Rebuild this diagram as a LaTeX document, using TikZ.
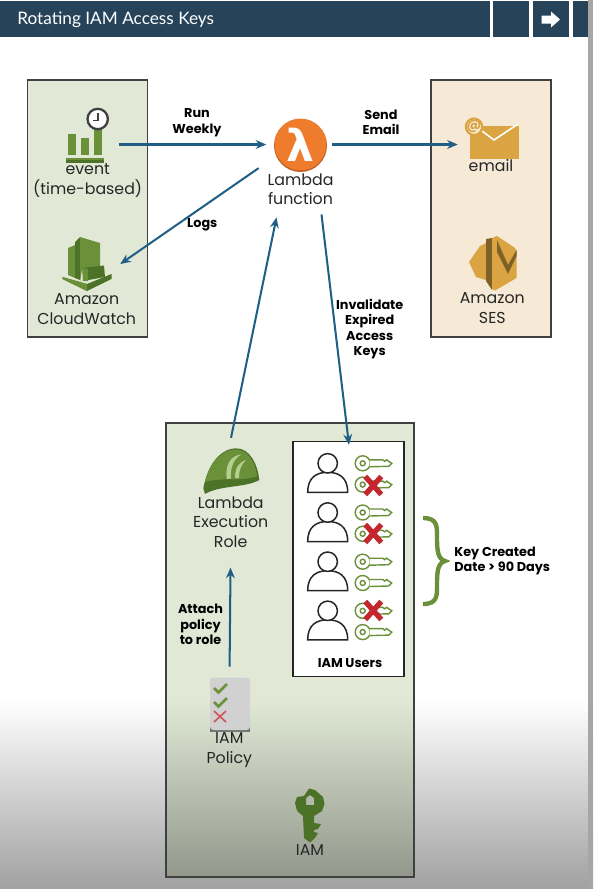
\documentclass[tikz,border=0pt]{standalone}
\usepackage{fontspec}
\setmainfont{Poppins}
\newfontfamily\titlefont{Lato}
\newfontfamily\glyphfont{DejaVu Sans}
\usetikzlibrary{arrows.meta}

\definecolor{barblue}{HTML}{26435A}
\definecolor{flowblue}{HTML}{1F5F85}
\definecolor{panelgreen}{HTML}{E1E9D6}
\definecolor{panelsand}{HTML}{F6EAD6}
\definecolor{leaf}{HTML}{6A9039}
\definecolor{leafdark}{HTML}{4C7228}
\definecolor{leafpale}{HTML}{B5CF8E}
\definecolor{amber}{HTML}{D9A441}
\definecolor{amberdark}{HTML}{7F6128}
\definecolor{crossred}{HTML}{C4262E}
\definecolor{lambdaorange}{HTML}{EF7B2D}

\tikzset{
  panel/.style={draw=black!75,line width=0.7pt},
  flow/.style={draw=flowblue,line width=1.15pt,-{Stealth[length=6pt,width=5pt]}},
  label/.style={align=center,inner sep=0pt,font=\fontsize{9}{11}\selectfont,text=black!85},
  boldlabel/.style={align=center,inner sep=0pt,font=\fontsize{7.3}{8.8}\selectfont\bfseries,text=black},
  iconbox/.style={inner sep=0pt,minimum width=#1*0.567pt,minimum height=22pt},
  pics/keyicon/.style={code={
    \draw[leaf,line width=0.8pt,fill=white] (0,0) circle (7.5);
    \draw[leaf,line width=0.8pt,fill=white] (7,-3.5) -- (20,-3.5) -- (22,-2) -- (24,-3.5) -- (26,-2) -- (29,0) -- (26,3) -- (7,3.5);
    \draw[leaf,line width=0.8pt] (0,0) circle (2.5);
  }},
  pics/usericon/.style={code={
    \draw[black!85,line width=0.85pt,fill=white] (-20,29) -- (20,29) .. controls (20,14) and (11,9) .. (0,9) .. controls (-11,9) and (-20,14) .. (-20,29) -- cycle;
    \draw[black!85,line width=0.85pt,fill=white] (0,0) circle (9.7);
  }},
  pics/redcross/.style={code={
    \draw[crossred,line width=3pt] (-8,-9) -- (8,9) (8,-9) -- (-8,9);
  }}
}

\begin{document}
\begin{tikzpicture}[x=0.02cm,y=-0.02cm]

\useasboundingbox (0,0) rectangle (593,889);

% Page background
\fill[white] (0,0) rectangle (593,700);
\shade[top color=white,bottom color=black!37] (0,700) rectangle (593,889);
\fill[black!35] (588,0) rectangle (593,889);

% Title bar
\fill[barblue] (0,1) rectangle (490,37);
\fill[barblue] (493,1) rectangle (529,37);
\fill[barblue] (533,1) rectangle (569,37);
\fill[barblue] (573,1) rectangle (588,37);
\node[anchor=west,inner sep=0pt,text=white,font=\fontsize{9.8}{12}\selectfont\titlefont] (title) at (17,19.5) {Rotating IAM Access Keys};
\fill[white] (541.5,15.5) -- (551,15.5) -- (551,11.5) -- (560,19.5) -- (551,27.5) -- (551,23.5) -- (541.5,23.5) -- cycle;

% Panels
\draw[panel,fill=panelgreen] (27.5,80) rectangle (147.5,337);
\draw[panel,fill=panelsand] (431,80) rectangle (551,337);
\fill[panelgreen] (166,423) rectangle (414,700);
\shade[top color=panelgreen,bottom color=black!35!panelgreen] (166,700) rectangle (414,877);
\draw[panel] (166,423) rectangle (414,877);

% Event icon
\fill[leafdark] (66,157.5) rectangle (103.5,162.5);
\fill[leaf] (66,157.5) rectangle (103.5,160);
\fill[leaf] (67.5,133.5) rectangle (76,155);
\fill[leaf] (80.5,137.5) rectangle (88.5,155);
\fill[leaf] (94,128) rectangle (102,155);
\draw[black!75,line width=1.3pt,fill=white] (97.7,119) circle (10.2);
\draw[black!75,line width=0.8pt] (98,112.5) -- (98,120.5) -- (92.5,120.5);
\node[iconbox=62] (eventicon) at (88,144.5) {};
\node[label] (eventlabel) at (87.7,180.5) {event\\(time-based)};

% CloudWatch icon
\fill[leaf] (68,248) -- (75,245) -- (75,278) -- (68,275) -- cycle;
\fill[leafdark] (75,242) -- (80,237) -- (80,280) -- (75,278) -- cycle;
\fill[leaf] (80,237) -- (100,243) -- (100,268) -- (82,270) -- (80,282) -- cycle;
\fill[leafdark] (82.5,268) -- (104,265.5) -- (105,277) -- (83,281) -- cycle;
\fill[leaf] (82.5,268) -- (88,269) -- (88,281) -- (83,281) -- cycle;
\fill[leafdark] (62.5,277) -- (87,284) -- (111.5,274) -- (111.5,279) -- (87,291) -- (62.5,279) -- cycle;
\fill[leaf] (62.5,277) -- (87,284) -- (87,291) -- (62.5,279) -- cycle;
\node[iconbox=64] (watchicon) at (88,264) {};
\node[label] (watchlabel) at (86.7,309) {Amazon\\CloudWatch};

% Lambda function
\fill[black!20!lambdaorange] (300.5,145.5) circle (26.5);
\node[circle,fill=lambdaorange,minimum size=29.5pt,inner sep=0pt,text=white,font=\fontsize{25}{25}\selectfont\glyphfont\bfseries] (lambda) at (300.5,144.5) {λ};
\node[label] (lambdalabel) at (300.5,189.5) {Lambda\\function};

% Email icon
\fill[amber] (470,125.5) -- (519,125.5) -- (519,158.5) -- (470,158.5) -- cycle;
\draw[white,line width=0.9pt] (482,131) -- (494,140) -- (518,124);
\draw[amber,line width=1.2pt,fill=panelsand] (474,126.7) circle (8.2);
\node[text=amber,inner sep=0pt,font=\fontsize{8}{8}\selectfont\bfseries] (atsign) at (474,126.2) {@};
\node[iconbox=49] (emailicon) at (494.5,144.5) {};
\node[label] (emaillabel) at (491,166) {email};

% SES icon
\fill[amber] (469,262) -- (480,246) -- (486,243) -- (486,280) -- (476,277) -- cycle;
\fill[amberdark] (486,239) -- (492,238) -- (492,290) -- (486,281) -- cycle;
\fill[amber] (492,238) -- (497,236) -- (515,248) -- (516.5,251) -- (516.5,278) -- (495,290.5) -- (492,289) -- cycle;
\fill[amberdark] (497,240) -- (508,265) -- (516.5,250) -- (516.5,256) -- (508,274) -- (497,252) -- cycle;
\node[label] (seslabel) at (492.3,308) {Amazon\\SES};

% Lambda role helmet
\fill[leafdark] (203.3,488.3) .. controls (207,468) and (218,449) .. (236,448.3) .. controls (250,448) and (258,465) .. (259.3,480) .. controls (245,488) and (220,485) .. (205,494) -- cycle;
\fill[leaf] (205,482) .. controls (209,466) and (219,450) .. (236,449.5) .. controls (249,449.5) and (256,465) .. (257,476) .. controls (243,482) and (220,477) .. (205,482) -- cycle;
\fill[leafpale] (226.7,479) .. controls (225,465) and (230,456) .. (241,454.5) .. controls (234,459) and (230,467) .. (231,478.5) -- cycle;
\fill[leafpale] (235,478) .. controls (235,468) and (238,463) .. (246,460) .. controls (241,465) and (239,470) .. (239,478) -- cycle;
\node[iconbox=56,minimum height=47.6pt] (roleicon) at (231,480) {};
\node[label] (rolelabel) at (230.7,522) {Lambda\\Execution\\Role};

% IAM policy
\fill[black!55] (210,720) rectangle (250,732);
\fill[black!18,rounded corners=2pt] (210,677.5) rectangle (250,730);
\draw[leaf,line width=1.6pt] (214,688) -- (218.5,692.5) -- (227,684);
\draw[leaf,line width=1.6pt] (214,702) -- (218.5,706.5) -- (227,698);
\draw[crossred!80,line width=0.9pt] (214,711) -- (226,722) (226,711) -- (214,722);
\node[iconbox=40,minimum height=33pt] (policyicon) at (229.5,705) {};
\node[label] (policylabel) at (229.3,750) {IAM\\Policy};

% IAM key
\fill[leafdark,even odd rule] (304,796) -- (309,788.5) -- (315,790) -- (323,797) -- (324.5,804) -- (322,811) -- (314,816) -- (314,823) -- (321,824) -- (318,829) -- (314,830) -- (314,832) -- (318,833) -- (315,838) -- (310,842.5) -- (304,838) -- (303,816) -- (297,811) -- (295,803) -- (297,797) -- cycle (306,798) -- (310,795) -- (314,798) -- (314,805) -- (306,805) -- cycle;
\node[label] (iamlabel) at (310,850) {IAM};

% IAM users
\node[draw=black!85,line width=0.7pt,fill=white,inner sep=0pt,minimum width=63.3pt,minimum height=133.8pt] (usersbox) at (348.5,559) {};
\foreach \row/\uy in {0/463.3,1/512.5,2/561.7,3/610.8}{
  \pic at (327.7,\uy) {usericon};
  \pic at (362.7,\uy) {keyicon};
  \pic at (362.7,\uy+21.3) {keyicon};
}
\pic at (373.3,485.5) {redcross};
\pic at (373.3,533.5) {redcross};
\pic at (373.3,610.5) {redcross};
\node[boldlabel] (userslabel) at (350,663.5) {IAM Users};

% Brace for old keys
\draw[leaf,line width=2.5pt] (423,518) .. controls (438,518) and (437,527) .. (437,538) .. controls (437,551) and (438,559) .. (445,561) .. controls (438,563) and (437,571) .. (437,584) .. controls (437,595) and (438,604) .. (423,604);
\node[boldlabel,align=left,anchor=west] (keydate) at (454,561) {Key Created\\Date > 90 Days};

% Connectors
\draw[flow,shorten >=0.16cm] (eventicon.east) -- (lambda.west);
\draw[flow,shorten <=0.1cm,shorten >=0.24cm] (lambda.east) -- (emailicon.west);
\draw[flow,shorten <=0.44cm] (lambda.205) -- (watchicon.east);
\draw[flow] (roleicon.north) -- ([shift={(-24,12)}]lambdalabel.south);
\draw[flow,shorten >=-0.08cm] ([shift={(21,9)}]lambdalabel.south) -- (usersbox.north);
\draw[flow,shorten <=0.18cm,shorten >=0.4cm] (policyicon.north) -- (rolelabel.south);

% Connector labels
\node[boldlabel] (runlabel) at (197,122.5) {Run\\Weekly};
\node[boldlabel] (sendlabel) at (381,122.5) {Send\\Email};
\node[boldlabel] (logslabel) at (202.3,224.7) {Logs};
\node[boldlabel] (invalidlabel) at (369.7,329) {Invalidate\\Expired\\Access\\Keys};
\node[boldlabel] (attachlabel) at (200.5,624.5) {Attach\\policy\\to role};

\end{tikzpicture}
\end{document}
